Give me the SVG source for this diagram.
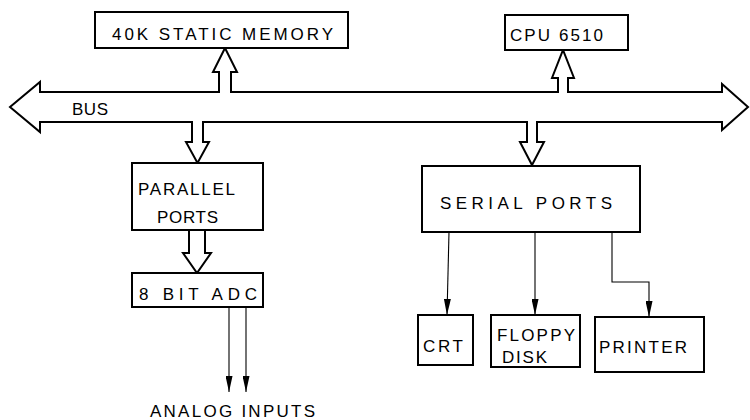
<svg xmlns="http://www.w3.org/2000/svg" width="750" height="420" viewBox="0 0 750 420">
<style>
.box{fill:#fff;stroke:#000;stroke-width:2}
.bus{fill:#fff;stroke:#000;stroke-width:2;stroke-linejoin:miter}
.ln{fill:none;stroke:#000;stroke-width:1.1}
.t{font-family:"Liberation Sans",Arial,sans-serif;font-size:17px;fill:#000}
</style>
<defs>
<marker id="ah" viewBox="0 0 16 7" refX="16" refY="3.5" markerWidth="16" markerHeight="7" markerUnits="userSpaceOnUse" orient="auto">
<path d="M0,0 L16,3.5 L0,7 Z" fill="#000"/>
</marker>
</defs>
<rect width="750" height="420" fill="#fff"/>
<g id="connectors">
<path id="bus" class="bus" d="M40,92 L219,92 L219,72 L213,72 L225,48 L237,72 L231,72 L231,92 L558,92 L558,78 L552,78 L563,50 L574,78 L568,78 L568,92 L722,92 L722,84 L748,107 L722,130 L722,122 L537,122 L537,142 L544,142 L532,165 L520,142 L527,142 L527,122 L203,122 L203,142 L209,142 L197.5,163 L186,142 L192,142 L192,122 L40,122 L40,132 L10,107 L40,82 Z"/>
<path class="bus" d="M189,230 L189,253 L183,253 L197,273 L211,253 L205,253 L205,230"/>
<line class="ln" x1="449" y1="232" x2="447" y2="315" marker-end="url(#ah)"/>
<line class="ln" x1="535" y1="232" x2="535" y2="315" marker-end="url(#ah)"/>
<polyline class="ln" points="612,232 612,282 649,282 649,317" marker-end="url(#ah)"/>
<line class="ln" x1="229" y1="307" x2="229" y2="392" marker-end="url(#ah)"/>
<line class="ln" x1="246" y1="307" x2="246" y2="392" marker-end="url(#ah)"/>
</g>
<text class="t" x="72" y="115" textLength="36" lengthAdjust="spacing">BUS</text>
<g id="memory">
<rect class="box" x="95" y="12" width="253" height="36"/>
<text class="t" x="112" y="40" textLength="221" lengthAdjust="spacing">40K STATIC MEMORY</text>
</g>
<g id="cpu">
<rect class="box" x="505" y="15" width="123" height="35"/>
<text class="t" x="510" y="41" textLength="93" lengthAdjust="spacing">CPU 6510</text>
</g>
<g id="parallel">
<rect class="box" x="132" y="163" width="131" height="67"/>
<text class="t" x="138" y="195" textLength="97" lengthAdjust="spacing">PARALLEL</text>
<text class="t" x="157" y="223" textLength="61" lengthAdjust="spacing">PORTS</text>
</g>
<g id="adc">
<rect class="box" x="132" y="273" width="131" height="34"/>
<text class="t" x="139" y="300" textLength="118" lengthAdjust="spacing">8 BIT ADC</text>
</g>
<g id="serial">
<rect class="box" x="422" y="166" width="218" height="66"/>
<text class="t" x="440" y="209" textLength="172" lengthAdjust="spacing">SERIAL PORTS</text>
</g>
<g id="crt">
<rect class="box" x="418" y="315" width="55" height="50"/>
<text class="t" x="423" y="352" textLength="40" lengthAdjust="spacing">CRT</text>
</g>
<g id="floppy">
<rect class="box" x="491" y="315" width="89" height="52"/>
<text class="t" x="497" y="341" textLength="78" lengthAdjust="spacing">FLOPPY</text>
<text class="t" x="502" y="363" textLength="45" lengthAdjust="spacing">DISK</text>
</g>
<g id="printer">
<rect class="box" x="595" y="317" width="109" height="55"/>
<text class="t" x="599" y="353" textLength="88" lengthAdjust="spacing">PRINTER</text>
</g>
<text id="analog" class="t" x="150" y="417" textLength="165" lengthAdjust="spacing">ANALOG INPUTS</text>
</svg>
